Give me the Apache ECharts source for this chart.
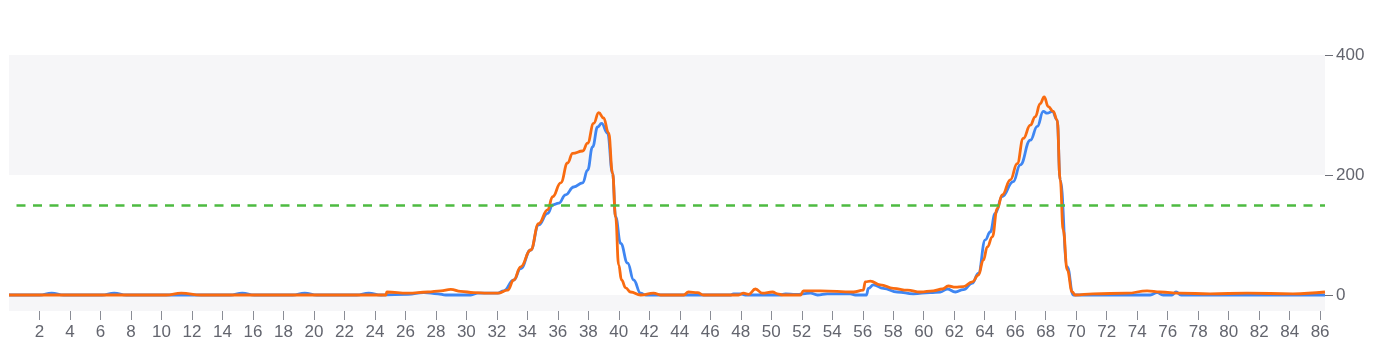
<!DOCTYPE html>
<html>
<head>
<meta charset="utf-8">
<script src="https://cdn.jsdelivr.net/npm/echarts@6/dist/echarts.min.js"></script>
<style>
html,body{margin:0;padding:0;background:#fff;}
#chart{width:1385px;height:353px;}
</style>
</head>
<body>
<div id="chart"></div>
<script>
// x tick labels
var xTickLabels = [2,4,6,8,10,12,14,16,18,20,22,24,26,28,30,32,34,36,38,40,42,44,46,48,50,52,54,56,58,60,62,64,66,68,70,72,74,76,78,80,82,84,86];
var yTickLabels = [0,200,400];
var thresholdValue = 150;

// blue series
var blueX = [0,2.0,2.8,3.6,6.1,6.9,7.7,14.5,15.3,16.1,18.6,19.4,20.2,22.8,23.6,24.4,26.16,27.21,28.13,28.65,30.29,30.75,32.06,32.45,33.11,33.56,34.22,34.74,35.33,35.66,36.06,36.51,37.04,37.63,37.95,38.28,38.61,38.87,39.26,39.59,39.79,40.12,40.58,40.97,41.43,41.76,47.33,47.52,47.98,48.31,50.60,50.93,51.59,52.57,53.03,53.68,55.19,55.52,56.24,56.37,56.70,57.35,58.27,59.32,60.43,61.09,61.55,62.07,62.60,63.19,63.58,64.04,64.36,64.69,65.15,65.87,66.33,66.99,67.45,67.84,68.10,68.43,68.75,68.95,69.41,69.81,74.85,75.31,75.70,76.29,76.55,76.88,86.32];
var blueY = [0,0,3,0,0,3,0,0,3,0,0,3,0,0,3,0,1,4,2,0,0,3,3,7,25,44,75,117,136,150,153,167,180,187,208,247,280,286,270,203,130,86,53,25,3,0,0,2,2,0,0,2,1,3,0,2,2,0,0,11,17,11,5,2,4,5,10,5,9,20,36,92,105,136,164,189,217,258,281,306,303,306,292,192,47,0,0,4,0,0,5,0,0];

// orange series
var orangeX = [0,10.3,11.3,12.6,24.72,24.78,26.16,27.47,28.32,28.98,29.63,30.49,31.40,32.06,32.71,33.11,33.56,34.22,34.74,35.33,35.66,36.19,36.64,36.97,37.63,37.95,38.35,38.68,39.00,39.33,39.59,39.79,39.99,40.18,40.45,40.77,41.43,42.28,42.74,44.25,44.57,45.16,45.56,47.85,48.18,48.51,48.96,49.42,50.08,50.41,50.73,51.91,52.11,53.22,55.39,56.03,56.17,56.50,57.15,58.01,58.93,59.78,60.63,61.22,61.61,62.07,62.60,63.19,63.58,63.91,64.17,64.50,64.82,65.15,65.68,66.13,66.53,66.99,67.31,67.64,67.90,68.17,68.49,68.75,68.95,69.15,69.41,69.74,69.93,71.11,73.34,74.65,75.51,76.82,78.78,81.21,84.22,86.32];
var orangeY = [0,0,3,0,0,5,3,5,7,9.5,6,4,3,3,8,25,47,75,119,142,164,187,220,236,240,253,286,304,295,270,203,130,50,25,12,5,0,3,0,0,5,4,0,0,3,1,10,3,5,2,0,0,7,7,5,8,22,23,17,11,8,5,7,10,15,13,14,22,33,58,80,97,144,167,192,219,261,283,297,319,330,314,306,292,192,108,42,5,0,2,3,7,5,3,2,3,2,5];

function pairs(xs, ys){ var out=[]; for(var i=0;i<xs.length;i++){ out.push([xs[i], ys[i]]); } return out; }

var chart = echarts.init(document.getElementById('chart'), null, {renderer:'canvas'});
var labelColor = '#63656e';
var bandColor = '#f6f6f8';
var font = 'Liberation Sans, Arial, sans-serif';
chart.setOption({
  animation:false,
  backgroundColor:'#ffffff',
  grid:[
    {left:9,right:60,top:55,bottom:58,containLabel:false},
    {left:9,right:60,top:295,bottom:42,containLabel:false,show:true,backgroundColor:bandColor,borderWidth:0}
  ],
  xAxis:[
    {
      gridIndex:0, type:'value', min:0, max:86.32,
      axisLine:{show:false, onZero:false}, axisTick:{show:false}, axisLabel:{show:false}, splitLine:{show:false}
    },
    {
      gridIndex:1, type:'value', min:0, max:86.32,
      axisLine:{show:false, onZero:false},
      axisTick:{show:true, length:9, lineStyle:{color:'#8a8d96'}, customValues:xTickLabels},
      axisLabel:{show:true, color:labelColor, fontSize:17, fontFamily:font, margin:13, customValues:xTickLabels},
      splitLine:{show:false}
    }
  ],
  yAxis:[
    {
      gridIndex:0, type:'value', position:'right', min:0, max:400, interval:200,
      axisLine:{show:false, onZero:false},
      axisTick:{show:true, length:8, lineStyle:{color:'#6e7079'}},
      axisLabel:{show:true, color:labelColor, fontSize:17, fontFamily:font, margin:11},
      splitLine:{show:false},
      splitArea:{show:true, areaStyle:{color:['#ffffff', bandColor]}}
    },
    {
      gridIndex:1, type:'value', min:0, max:1,
      axisLine:{show:false, onZero:false}, axisTick:{show:false}, axisLabel:{show:false}, splitLine:{show:false}
    }
  ],
  series:[
    {
      name:'blue', type:'line', data:pairs(blueX, blueY), showSymbol:false, symbol:'none',
      smooth:0.45, smoothMonotone:'x', z:3, clip:false,
      lineStyle:{color:'#3f86f2', width:2.8}
    },
    {
      name:'orange', type:'line', data:pairs(orangeX, orangeY), showSymbol:false, symbol:'none',
      smooth:0.45, smoothMonotone:'x', z:4, clip:false,
      lineStyle:{color:'#f96b10', width:2.8},
      markLine:{silent:true, symbol:'none', label:{show:false},
        lineStyle:{color:'#4dbb41', width:2.5, type:[9,7.5], dashOffset:9},
        data:[{yAxis:thresholdValue}]}
    }
  ]
});
</script>
</body>
</html>
